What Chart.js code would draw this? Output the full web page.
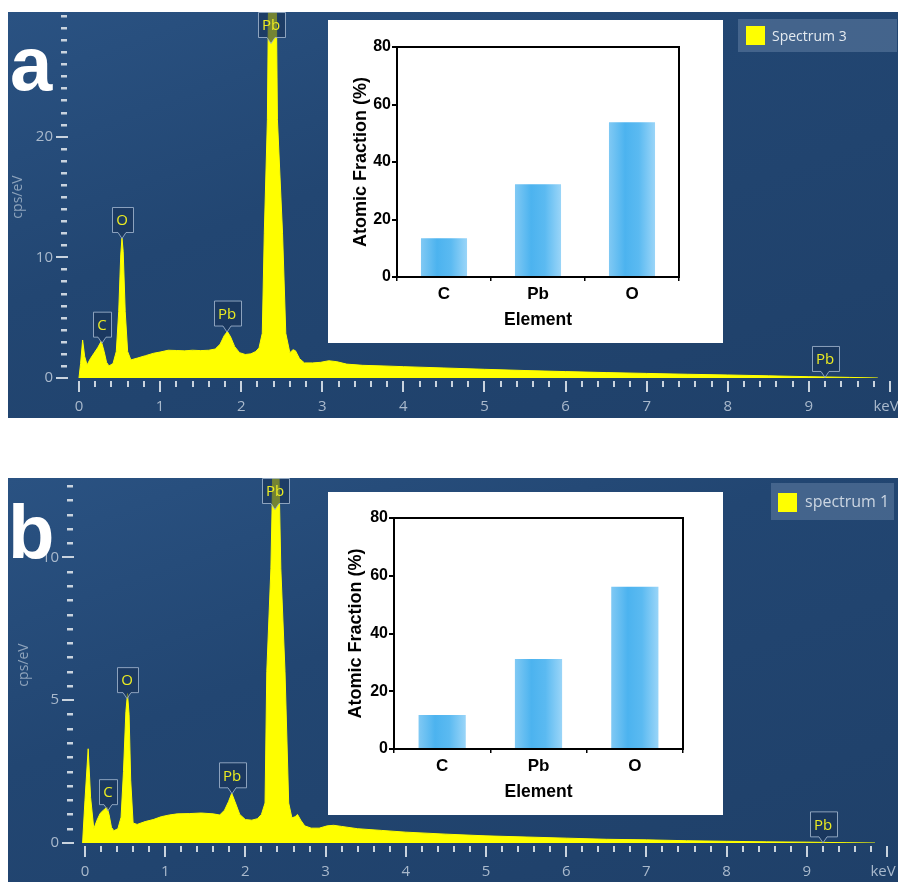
<!DOCTYPE html>
<html>
<head>
<meta charset="utf-8">
<script src="https://cdn.jsdelivr.net/npm/chart.js@4.4.1/dist/chart.umd.min.js"></script>
<style>
  body { margin: 0; width: 900px; height: 882px; background: #fff; position: relative; overflow: hidden; }
  .panel { position: absolute; left: 8px; width: 890px; background: linear-gradient(160deg, #2a5282 0%, #224672 40%, #1f4069 100%); }
  .panel canvas { position: absolute; left: 0; top: 0; display: block; }
  .inset { position: absolute; background: #fff; }
  .legend { position: absolute; background: rgba(96, 126, 162, 0.55); font-family: "Open Sans", sans-serif; white-space: nowrap; }
  .legend .sw { position: absolute; width: 19px; height: 19px; background: #ffff00; }
  .legend .txt { position: absolute; top: 0; }
</style>
</head>
<body>

<div class="panel" style="top:12px;height:406px">
  <canvas id="specA" width="890" height="406"></canvas>
  <div class="inset" style="left:320px;top:8px;width:395px;height:323px"><canvas id="barsA" width="395" height="323"></canvas></div>
  <div class="legend" style="left:730px;top:7px;width:159px;height:33px">
    <span class="sw" style="left:8px;top:7px"></span>
    <span class="txt" style="left:34px;line-height:33px;font-size:14px;color:#e4eaf0">Spectrum 3</span>
  </div>
</div>

<div class="panel" style="top:478px;height:404px">
  <canvas id="specB" width="890" height="404"></canvas>
  <div class="inset" style="left:320px;top:14px;width:395px;height:323px"><canvas id="barsB" width="395" height="323"></canvas></div>
  <div class="legend" style="left:763px;top:5px;width:123px;height:37px">
    <span class="sw" style="left:7px;top:10px"></span>
    <span class="txt" style="left:34px;line-height:37px;font-size:16px;color:#ccd6e2">spectrum 1</span>
  </div>
</div>

<script>
// Spectrum 3 (panel a): energy in keV, intensity in cps/eV
var kevA = [0, 0.02, 0.045, 0.07, 0.1, 0.14, 0.18, 0.23, 0.275, 0.31, 0.34, 0.37, 0.42, 0.46, 0.49, 0.515, 0.53, 0.545,
  0.57, 0.6, 0.64, 0.72, 0.82, 0.92, 1.0, 1.1, 1.2, 1.3, 1.4, 1.5, 1.6, 1.68, 1.74, 1.79, 1.83, 1.87, 1.92, 1.98,
  2.05, 2.12, 2.18, 2.22, 2.26, 2.285, 2.323, 2.335, 2.385, 2.435, 2.447, 2.51, 2.55, 2.6, 2.64, 2.67, 2.72, 2.78,
  2.88, 2.98, 3.08, 3.18, 3.3, 3.5, 3.75, 4.0, 4.5, 5.0, 5.5, 6.0, 6.5, 7.0, 7.5, 8.0, 8.5, 9.0, 9.5, 9.85];
var cpsA = [0, 1.2, 3.15, 1.8, 1.08, 1.6, 2.0, 2.5, 3.05, 2.2, 1.3, 1.0, 1.2, 2.2, 5.5, 10.2, 11.6, 10.5,
  5.5, 2.2, 1.5, 1.65, 1.85, 2.05, 2.15, 2.3, 2.28, 2.25, 2.3, 2.27, 2.3, 2.4, 2.8, 3.5, 3.85, 3.4, 2.6, 2.1,
  1.95, 2.0, 2.2, 2.5, 3.7, 12, 21.4, 30, 40, 30, 21.4, 12, 3.7, 2.1, 2.35, 2.25, 1.6, 1.25,
  1.25, 1.3, 1.43, 1.35, 1.15, 1.05, 1.0, 0.94, 0.83, 0.72, 0.62, 0.53, 0.45, 0.38, 0.31, 0.25, 0.18, 0.11, 0.05, 0];

// Spectrum 1 (panel b)
var kevB = [-0.03, 0.0, 0.04, 0.07, 0.11, 0.15, 0.19, 0.23, 0.275, 0.3, 0.33, 0.36, 0.41, 0.45, 0.48, 0.51, 0.53, 0.55,
  0.57, 0.6, 0.65, 0.75, 0.85, 0.95, 1.05, 1.15, 1.3, 1.45, 1.6, 1.68, 1.74, 1.79, 1.83, 1.87, 1.93, 2.0,
  2.08, 2.15, 2.2, 2.245, 2.267, 2.318, 2.339, 2.38, 2.421, 2.442, 2.494, 2.54, 2.58, 2.62, 2.65, 2.69, 2.74,
  2.82, 2.92, 3.02, 3.1, 3.2, 3.4, 3.7, 4.0, 4.5, 5.0, 5.5, 6.0, 6.5, 7.0, 7.5, 8.0, 8.5, 9.0, 9.5, 9.85];
var cpsB = [0, 1.5, 3.3, 1.6, 0.5, 0.8, 1.04, 1.15, 1.25, 1.0, 0.55, 0.43, 0.5, 0.9, 2.5, 4.6, 5.23, 4.5,
  2.2, 0.7, 0.65, 0.75, 0.82, 0.92, 0.98, 1.02, 1.03, 1.05, 1.02, 0.98, 1.15, 1.45, 1.74, 1.45, 1.0, 0.82,
  0.8, 0.85, 1.0, 1.4, 6, 9.6, 12.6, 18, 12.6, 9.6, 6, 1.4, 0.88, 0.92, 1.0, 0.8, 0.6,
  0.52, 0.52, 0.6, 0.62, 0.58, 0.5, 0.44, 0.38, 0.31, 0.25, 0.21, 0.17, 0.13, 0.11, 0.08, 0.06, 0.04, 0.03, 0.01, 0];

// Quantification (atomic %)
var elements = ['C', 'Pb', 'O'];
var fracA = [13.5, 32.3, 53.8];
var fracB = [11.8, 31.2, 56.2];

// Axis labels
var kevLabels = ['0', '1', '2', '3', '4', '5', '6', '7', '8', '9', 'keV'];
var cpsLabelsA = [0, 10, 20];
var cpsLabelsB = [0, 5, 10];

// Peak identification markers
var peakNames = ['C', 'O', 'Pb', 'Pb', 'Pb'];
var peakKevA = [0.28, 0.53, 1.83, 2.37, 9.2];
var peakKevB = [0.285, 0.525, 1.83, 2.37, 9.2];

function valueAt(kev, cps, x) {
  for (var i = 1; i < kev.length; i++) {
    if (x <= kev[i]) {
      var t = (x - kev[i - 1]) / (kev[i] - kev[i - 1]);
      return cps[i - 1] + t * (cps[i] - cps[i - 1]);
    }
  }
  return 0;
}

function drawTag(ctx, name, px, tipY) {
  ctx.font = '15px "Open Sans", sans-serif';
  var w = Math.round(ctx.measureText(name).width) + 9;
  var h = 25, ph = 6;
  var top = Math.max(tipY - ph - h, 0) + 0.5;
  var bottom = top + h;
  var l = Math.round(px - w / 2) + 0.5, r = l + w;
  ctx.beginPath();
  ctx.moveTo(l, top);
  ctx.lineTo(r, top);
  ctx.lineTo(r, bottom);
  ctx.lineTo(px + 4, bottom);
  ctx.lineTo(px, bottom + ph);
  ctx.lineTo(px - 4, bottom);
  ctx.lineTo(l, bottom);
  ctx.closePath();
  ctx.fillStyle = 'rgba(24, 50, 86, 0.6)';
  ctx.fill();
  ctx.strokeStyle = 'rgba(160, 180, 204, 0.85)';
  ctx.lineWidth = 1;
  ctx.stroke();
  ctx.fillStyle = '#ecec22';
  ctx.textAlign = 'center';
  ctx.textBaseline = 'middle';
  ctx.fillText(name, px, top + h / 2 + 1);
}

// Ticks, labels, peak tags and the panel letter for a spectrum chart
var spectrumDecor = {
  id: 'spectrumDecor',
  afterDatasetsDraw: function(chart) {
    var o = chart.options.plugins.spectrumDecor;
    var ctx = chart.ctx, xs = chart.scales.x, ys = chart.scales.y;
    ctx.save();
    o.peaks.forEach(function(kev, i) {
      var px = Math.round(xs.getPixelForValue(kev));
      var tip = ys.getPixelForValue(Math.min(valueAt(o.kev, o.cps, kev), ys.max));
      drawTag(ctx, peakNames[i], px, tip);
    });
    ctx.restore();
  },
  afterDraw: function(chart) {
    var o = chart.options.plugins.spectrumDecor;
    var ctx = chart.ctx, xs = chart.scales.x, ys = chart.scales.y, area = chart.chartArea;
    ctx.save();
    ctx.fillStyle = '#c9d3de';
    var n = Math.round(o.yTop / o.yMinor);
    for (var i = 0; i <= n; i++) {
      var v = i * o.yMinor;
      var py = Math.round(ys.getPixelForValue(v));
      if (o.yLabels.indexOf(v) >= 0) {
        ctx.fillRect(area.left - 16, py - 1, 12, 2);
      } else {
        ctx.fillRect(area.left - 11, py - 1, 6, 2.5);
      }
    }
    for (var j = 0; j <= 50; j++) {
      var px = Math.round(xs.getPixelForValue(j * 0.2));
      if (j % 5 === 0) ctx.fillRect(px - 1, area.bottom + 3, 2, 11);
      else ctx.fillRect(px - 1, area.bottom + 3, 2, 6);
    }
    ctx.font = '15px "Open Sans", sans-serif';
    ctx.fillStyle = '#a9b9cc';
    ctx.textBaseline = 'middle';
    ctx.textAlign = 'right';
    o.yLabels.forEach(function(v) {
      ctx.fillText(String(v), area.left - 19, ys.getPixelForValue(v));
    });
    ctx.textAlign = 'center';
    kevLabels.forEach(function(t, k) {
      var x = xs.getPixelForValue(k);
      ctx.fillText(t, k === 10 ? x - 4 : x, area.bottom + 29);
    });
    // y axis title
    ctx.save();
    ctx.translate(o.titleX, o.titleY);
    ctx.rotate(-Math.PI / 2);
    ctx.font = '14px "Open Sans", sans-serif';
    ctx.fillStyle = '#8fa4bc';
    ctx.fillText('cps/eV', 0, 0);
    ctx.restore();
    // panel letter
    ctx.font = 'bold 76px "Liberation Sans", Arial, sans-serif';
    ctx.fillStyle = '#ffffff';
    ctx.textAlign = 'left';
    ctx.textBaseline = 'alphabetic';
    ctx.fillText(o.letter, o.letterX, o.letterY);
    ctx.restore();
  }
};

function spectrumChart(id, kev, cps, opts) {
  return new Chart(document.getElementById(id), {
    type: 'line',
    data: {
      datasets: [{
        data: kev.map(function(k, i) { return { x: k, y: cps[i] }; }),
        borderColor: '#ffff00',
        backgroundColor: '#ffff00',
        borderWidth: 1,
        fill: 'origin',
        pointRadius: 0,
        tension: 0
      }]
    },
    options: {
      responsive: false,
      animation: false,
      events: [],
      layout: { padding: opts.padding },
      scales: {
        x: { type: 'linear', min: opts.xMin, max: 10, display: false },
        y: { min: 0, max: opts.yMax, display: false }
      },
      plugins: {
        legend: { display: false },
        tooltip: { enabled: false },
        spectrumDecor: {
          kev: kev, cps: cps, peaks: opts.peaks,
          yTop: opts.yTop, yMinor: opts.yMinor, yLabels: opts.yLabels,
          titleX: opts.titleX, titleY: opts.titleY,
          letter: opts.letter, letterX: opts.letterX, letterY: opts.letterY
        }
      }
    },
    plugins: [spectrumDecor]
  });
}

// Black frame around the inset plot area
var frameBox = {
  id: 'frameBox',
  afterDraw: function(chart) {
    var a = chart.chartArea, ctx = chart.ctx;
    ctx.save();
    ctx.strokeStyle = '#000';
    ctx.lineWidth = 2;
    ctx.strokeRect(a.left, a.top, a.right - a.left, a.bottom - a.top);
    ctx.restore();
  }
};

var boldFont = '"Liberation Sans", Arial, sans-serif';

function barFill(c) {
  var chart = c.chart;
  if (!chart.chartArea) return '#4fb4ef';
  var x = chart.scales.x.getPixelForValue(c.dataIndex);
  var half = chart.chartArea.width / elements.length * 0.49 / 2;
  var g = chart.ctx.createLinearGradient(x - half, 0, x + half, 0);
  g.addColorStop(0, '#80c9f4');
  g.addColorStop(0.35, '#4cb3ef');
  g.addColorStop(0.65, '#5bbaf1');
  g.addColorStop(1, '#9ad5f8');
  return g;
}

function insetChart(id, values, padLeft, axisW, padRight, padTop) {
  return new Chart(document.getElementById(id), {
    type: 'bar',
    data: {
      labels: elements,
      datasets: [{ data: values, backgroundColor: barFill, borderWidth: 0, barPercentage: 0.49, categoryPercentage: 1 }]
    },
    options: {
      responsive: false,
      animation: false,
      events: [],
      layout: { padding: { left: padLeft, right: padRight, top: padTop, bottom: 0 } },
      plugins: { legend: { display: false }, tooltip: { enabled: false } },
      scales: {
        x: {
          grid: { drawOnChartArea: false, tickLength: 4, color: '#000', lineWidth: 1.5, offset: true },
          border: { display: false },
          ticks: { color: '#000', padding: 3, font: { family: boldFont, weight: 'bold', size: 17 } },
          title: { display: true, text: 'Element', color: '#000', padding: { top: 0, bottom: 12 },
            font: { family: boldFont, weight: 'bold', size: 17.5 } },
          afterFit: function(s) { s.height = 66; }
        },
        y: {
          min: 0, max: 80,
          grid: { drawOnChartArea: false, tickLength: 5, color: '#000', lineWidth: 2 },
          border: { display: false },
          ticks: { stepSize: 20, color: '#000', padding: 1, font: { family: boldFont, weight: 'bold', size: 16 } },
          title: { display: true, text: 'Atomic Fraction (%)', color: '#000', padding: { top: 4, bottom: 0 },
            font: { family: boldFont, weight: 'bold', size: 18 } },
          afterFit: function(s) { s.width = axisW; }
        }
      }
    },
    plugins: [frameBox]
  });
}

spectrumChart('specA', kevA, cpsA, {
  padding: { left: 64, right: 8, top: 0, bottom: 40 },
  xMin: -0.086, yMax: 30.33, yTop: 30, yMinor: 1, yLabels: cpsLabelsA,
  peaks: peakKevA, titleX: 10, titleY: 185,
  letter: 'a', letterX: 2, letterY: 78
});

spectrumChart('specB', kevB, cpsB, {
  padding: { left: 70, right: 11, top: 0, bottom: 39 },
  xMin: -0.087, yMax: 12.78, yTop: 12.5, yMinor: 0.5, yLabels: cpsLabelsB,
  peaks: peakKevB, titleX: 16, titleY: 187,
  letter: 'b', letterX: 0, letterY: 80
});

insetChart('barsA', fracA, 18, 51, 44, 27);
insetChart('barsB', fracB, 13, 53, 40, 26);
</script>
</body>
</html>
